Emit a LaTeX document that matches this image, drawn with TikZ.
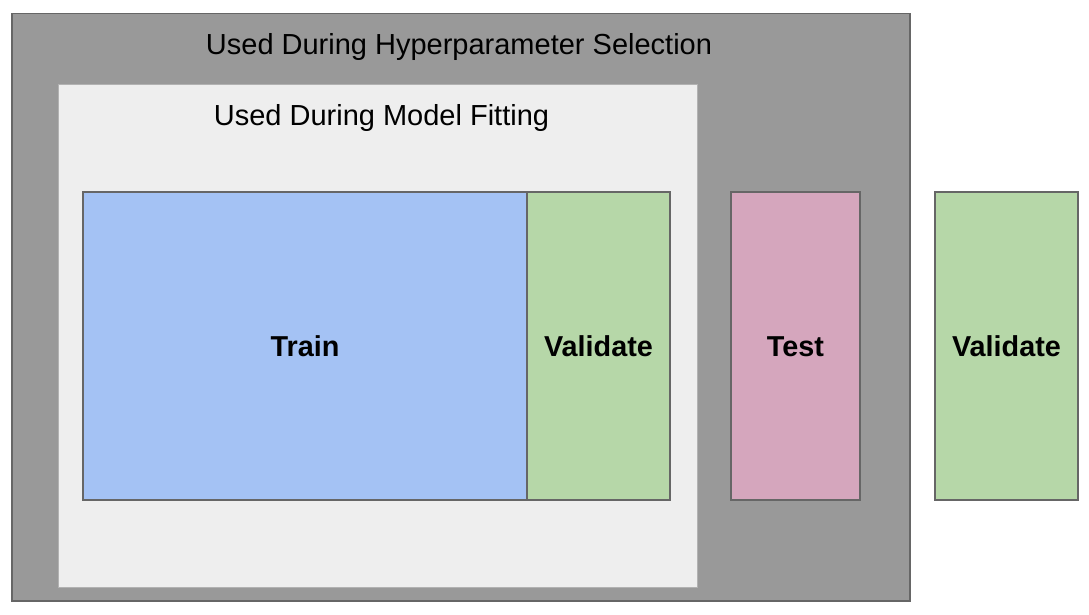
\documentclass[tikz,border=0pt]{standalone}
\usepackage{fontspec}
\setmainfont{Liberation Sans}
\usetikzlibrary{positioning}
\definecolor{hypergray}{HTML}{999999}
\definecolor{fitgray}{HTML}{EEEEEE}
\definecolor{edgegray}{HTML}{666666}
\definecolor{trainblue}{HTML}{A4C2F4}
\definecolor{validgreen}{HTML}{B6D7A8}
\definecolor{testpink}{HTML}{D5A6BD}
\tikzset{
    part/.style={draw=edgegray, line width=1.2pt, inner sep=0pt, outer sep=0pt,
        minimum height=308pt, anchor=north west, text height=20pt, text depth=0pt,
        font=\fontsize{28.8}{32}\selectfont\bfseries},
    heading/.style={font=\fontsize{29}{32}\selectfont, text height=21pt, text depth=0pt}
}
\begin{document}
\begin{tikzpicture}[x=1pt, y=-1pt]
    \useasboundingbox (0,0) rectangle (1089,615);
    % outer and inner regions
    \node[draw=edgegray, fill=hypergray, line width=1.5pt, inner sep=0pt, anchor=north west,
        minimum width=898pt, minimum height=587pt] (hyper) at (11,13) {};
    \node[draw=black!30, fill=fitgray, line width=.8pt, inner sep=0pt, anchor=north west,
        minimum width=639pt, minimum height=503pt] (fit) at (58,84) {};
    \node[heading] (hyperlabel) at (459,44) {Used During Hyperparameter Selection};
    \node[heading] (fitlabel) at (381.5,115) {Used During Model Fitting};

    % data splits
    \node[part, fill=trainblue, minimum width=444pt] (train) at (83,192) {Train};
    \node[part, fill=validgreen, minimum width=143pt, right=0pt of train] (valid) {Validate};
    \node[part, fill=testpink, minimum width=129pt] (test) at (731,192) {Test};
    \node[part, fill=validgreen, minimum width=143pt] (validout) at (935,192) {Validate};
\end{tikzpicture}
\end{document}
